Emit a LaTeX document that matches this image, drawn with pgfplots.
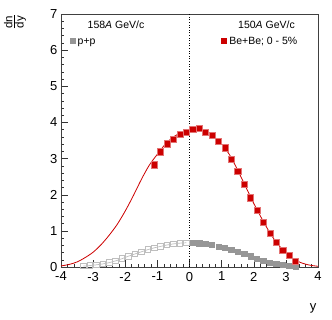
\documentclass[border=0pt]{standalone}
\usepackage{fontspec}
\setmainfont{Liberation Sans}
\usepackage{pgfplots}
\pgfplotsset{compat=1.18}
\definecolor{rootred}{RGB}{204,0,0}
\definecolor{ppgrey}{RGB}{150,150,150}
\definecolor{ppopen}{RGB}{190,190,190}
\begin{document}
\begin{tikzpicture}
\useasboundingbox (-61pt,-52pt) rectangle (271pt,267pt);
\begin{axis}[
  scale only axis, width=257pt, height=253pt,
  xmin=-4, xmax=4, ymin=0, ymax=7,
  xtick={-4,-3,-2,-1,0,1,2,3,4}, ytick={0,1,2,3,4,5,6,7},
  minor x tick num=4, minor y tick num=4,
  tick align=inside, xtick pos=lower, ytick pos=left,
  major tick length=7pt, minor tick length=3.5pt,
  axis line style={black!75}, every tick/.style={black!80},
  /pgf/number format/assume math mode=true,
  tick label style={font=\fontsize{13}{13}\selectfont},
  xticklabel style={yshift=-1.5pt},
  clip=false,
]
% fit curve (Be+Be)
\addplot[rootred, line width=0.8pt, smooth] coordinates {
(-4,0.03) (-3.75,0.07) (-3.5,0.14) (-3.25,0.26) (-3,0.41) (-2.75,0.62)
(-2.5,0.88) (-2.25,1.18) (-2,1.55) (-1.75,1.97) (-1.5,2.42) (-1.25,2.82)
(-1,3.12) (-0.75,3.40) (-0.5,3.60) (-0.25,3.72) (0,3.78) (0.25,3.80)
(0.5,3.76) (0.75,3.62) (1,3.40) (1.25,3.10) (1.5,2.68) (1.75,2.22)
(2,1.76) (2.25,1.34) (2.5,0.95) (2.75,0.63) (3,0.40) (3.25,0.22)
(3.5,0.11) (3.75,0.05) (4,0.02)};
% p+p reflected (open)
\addplot[ppopen, line width=0.7pt, mark=square, mark size=2.8pt, mark options={solid, line width=0.8pt}] coordinates {
(-0.1,0.67) (-0.3,0.66) (-0.5,0.64) (-0.7,0.61) (-0.9,0.57) (-1.1,0.53)
(-1.3,0.48) (-1.5,0.42) (-1.7,0.36) (-1.9,0.30) (-2.1,0.23) (-2.3,0.17)
(-2.5,0.12) (-2.7,0.085) (-2.9,0.06) (-3.1,0.04) (-3.3,0.025)};
% p+p measured
\addplot[only marks, mark=square*, mark size=2.7pt, ppgrey] coordinates {
(0.1,0.67) (0.3,0.66) (0.5,0.64) (0.7,0.61) (0.9,0.57) (1.1,0.53)
(1.3,0.48) (1.5,0.42) (1.7,0.36) (1.9,0.30) (2.1,0.23) (2.3,0.17)
(2.5,0.12) (2.7,0.085) (2.9,0.06) (3.1,0.04) (3.3,0.025)};
% Be+Be data
\addplot[only marks, mark=square*, mark size=3.1pt, rootred, mark options={draw=rootred!55}] coordinates {
(-1.1,2.83) (-0.9,3.19) (-0.7,3.41) (-0.5,3.54) (-0.3,3.68) (-0.1,3.72)
(0.1,3.81) (0.3,3.85) (0.5,3.73) (0.7,3.65) (0.9,3.47) (1.1,3.30)
(1.3,2.98) (1.5,2.64) (1.7,2.30) (1.9,1.92) (2.1,1.58) (2.3,1.25)
(2.5,0.93) (2.7,0.68) (2.9,0.47) (3.1,0.33) (3.3,0.17)};
% y=0 dotted line
\addplot[black, dotted, line width=0.6pt] coordinates {(0,0) (0,7)};
\end{axis}
% y axis label dn/dy (rotated fraction)
\node[rotate=90, anchor=south, font=\fontsize{11.5}{11.5}\selectfont, inner sep=0.8pt] at (-47.6pt,245pt) {dn};
\draw[black, line width=0.5pt] (-47.2pt,238.5pt) -- (-47.2pt,251.5pt);
\node[rotate=90, anchor=north, font=\fontsize{11.5}{11.5}\selectfont, inner sep=0.8pt] at (-46.8pt,245pt) {dy};
\node[anchor=base, font=\fontsize{13}{13}\selectfont, inner sep=0pt] at (252pt,-43pt) {y};
\node[anchor=center, font=\fontsize{10.5}{10.5}\selectfont, inner sep=0pt] at (55pt,242pt) {158\textit{A} GeV/c};
\node[anchor=west, font=\fontsize{10.5}{10.5}\selectfont, inner sep=0pt] at (8.5pt,225pt) {\textcolor{ppgrey}{\rule[0.5pt]{6pt}{6pt}}\hspace{2pt}p+p};
\node[anchor=east, font=\fontsize{10.5}{10.5}\selectfont, inner sep=0pt] at (234pt,242pt) {150\textit{A} GeV/c};
\node[anchor=east, font=\fontsize{10.5}{10.5}\selectfont, inner sep=0pt] at (236.5pt,225pt) {\textcolor{rootred}{\rule[0.5pt]{6.5pt}{6.5pt}}\hspace{2pt}Be+Be; 0 - 5\%};
\end{tikzpicture}
\end{document}
